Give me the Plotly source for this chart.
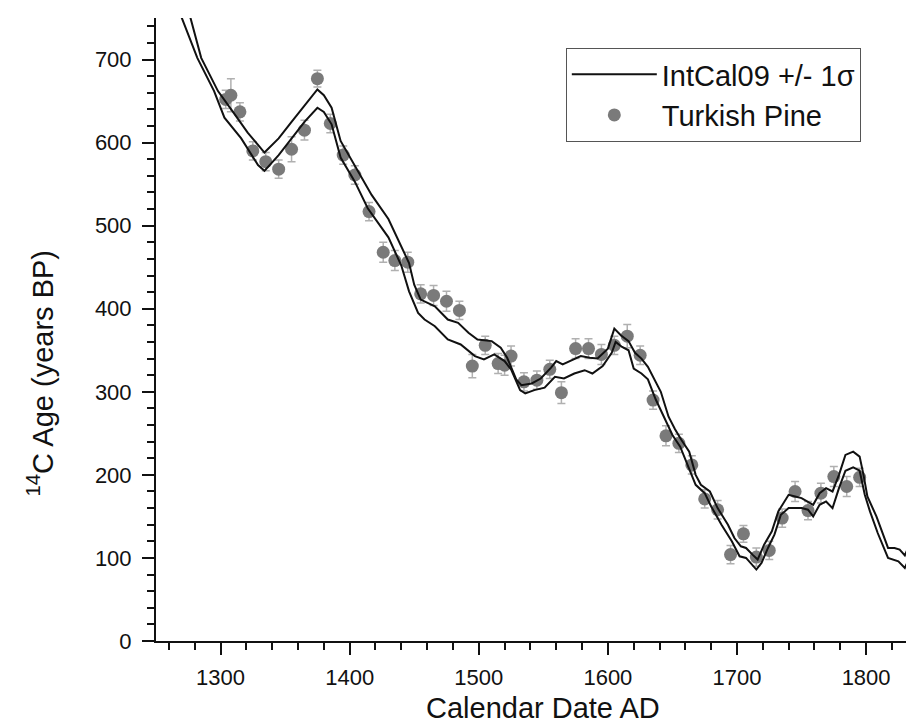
import plotly.graph_objects as go

# IntCal09 +1 sigma (upper) curve
upper_year = [1272, 1275, 1285, 1298, 1311, 1321, 1334, 1345, 1355, 1365, 1375, 1380, 1386, 1393, 1404,
              1417, 1430, 1440, 1446, 1450, 1455, 1466, 1476, 1484, 1492, 1499, 1510, 1517, 1522, 1529,
              1533, 1541, 1548, 1556, 1560, 1565, 1574, 1579, 1586, 1592, 1600, 1605, 1610, 1616, 1621,
              1626, 1631, 1636, 1641, 1647, 1652, 1657, 1663, 1668, 1672, 1679, 1685, 1693, 1698, 1703,
              1707, 1712, 1716, 1721, 1727, 1732, 1740, 1745, 1750, 1759, 1764, 1769, 1774, 1779, 1784,
              1790, 1795, 1798, 1801, 1808, 1817, 1822, 1826, 1830, 1835, 1840, 1845]
upper_age = [770, 760, 702, 662, 634, 612, 588, 605, 625, 645, 664, 657, 642, 602, 573,
             537, 508, 475, 455, 429, 411, 403, 387, 383, 371, 363, 361, 353, 341, 315,
             308, 310, 316, 329, 337, 333, 339, 343, 341, 340, 352, 376, 368, 361, 347,
             340, 330, 315, 300, 270, 255, 242, 228, 200, 188, 180, 160, 140, 124, 114,
             112, 104, 98, 116, 132, 156, 176, 174, 172, 164, 178, 184, 180, 200, 224,
             228, 222, 200, 174, 150, 112, 112, 110, 103, 121, 130, 124]

# IntCal09 -1 sigma (lower) curve
lower_year = [1265, 1267, 1282, 1295, 1303, 1316, 1329, 1334, 1345, 1355, 1365, 1375, 1380, 1386, 1393,
              1404, 1414, 1430, 1440, 1446, 1453, 1458, 1466, 1476, 1486, 1497, 1504, 1512, 1520, 1525,
              1532, 1536, 1543, 1551, 1559, 1566, 1574, 1582, 1588, 1596, 1600, 1603, 1606, 1611, 1616,
              1620, 1626, 1631, 1637, 1644, 1650, 1656, 1662, 1668, 1675, 1680, 1688, 1696, 1702, 1707,
              1715, 1719, 1724, 1729, 1734, 1740, 1750, 1755, 1759, 1764, 1769, 1774, 1779, 1784, 1790,
              1795, 1799, 1803, 1809, 1817, 1825, 1830, 1836, 1841, 1845]
lower_age = [775, 762, 702, 662, 630, 605, 573, 566, 585, 605, 625, 642, 637, 622, 582,
             553, 521, 486, 452, 421, 395, 387, 379, 363, 357, 343, 339, 345, 337, 327,
             302, 298, 302, 305, 318, 316, 322, 326, 322, 331, 341, 347, 360, 354, 350,
             328, 322, 315, 291, 268, 248, 234, 212, 188, 178, 162, 140, 120, 102, 100,
             86, 94, 112, 128, 152, 160, 160, 158, 150, 164, 168, 160, 184, 205, 209,
             205, 176, 156, 130, 100, 96, 88, 108, 115, 112]

# Turkish Pine measurements
pine_year = [1304, 1308, 1315, 1325, 1335, 1345, 1355, 1365, 1375, 1385, 1395, 1404, 1415, 1426,
             1435, 1445, 1455, 1465, 1475, 1485, 1495, 1505, 1515, 1520, 1525, 1535, 1545, 1555,
             1564, 1575, 1585, 1595, 1605, 1615, 1625, 1635, 1645, 1655, 1665, 1675, 1685, 1695,
             1705, 1715, 1725, 1735, 1745, 1755, 1765, 1775, 1785, 1795]
pine_age = [652, 657, 637, 590, 577, 568, 592, 615, 677, 623, 585, 561, 517, 468,
            458, 456, 418, 416, 409, 398, 331, 356, 334, 332, 343, 312, 314, 327,
            299, 352, 352, 345, 356, 367, 344, 290, 247, 238, 212, 171, 158, 104,
            129, 101, 109, 148, 180, 157, 178, 198, 186, 197]
pine_err = [11, 20, 11, 11, 11, 11, 15, 12, 10, 11, 11, 11, 11, 12,
            12, 12, 11, 12, 12, 11, 14, 11, 12, 12, 12, 11, 11, 11,
            13, 12, 12, 12, 11, 14, 11, 11, 12, 11, 11, 11, 11, 11,
            10, 11, 11, 11, 12, 11, 12, 12, 12, 11]

x_ticks = [1300, 1400, 1500, 1600, 1700, 1800]
y_ticks = [0, 100, 200, 300, 400, 500, 600, 700]

FONT = "Liberation Sans, Arial, sans-serif"

fig = go.Figure()

fig.add_trace(go.Scatter(
    x=pine_year, y=pine_age, mode="markers", name="Turkish Pine",
    marker=dict(color="#7a7a7a", size=13, line=dict(width=0)),
    error_y=dict(type="data", array=pine_err, visible=True, color="#b0b0b0", thickness=1.5, width=4),
    legendrank=2,
))
fig.add_trace(go.Scatter(
    x=upper_year, y=upper_age, mode="lines", name="IntCal09 +/- 1σ",
    line=dict(color="#111111", width=2), legendgroup="ic", legendrank=1,
))
fig.add_trace(go.Scatter(
    x=lower_year, y=lower_age, mode="lines", name="IntCal09 +/- 1σ",
    line=dict(color="#111111", width=2), legendgroup="ic", showlegend=False,
))

axis_common = dict(
    showgrid=False, zeroline=False, showline=True, linecolor="#111111", linewidth=2,
    ticks="outside", ticklen=12, tickwidth=2, tickcolor="#111111",
    tickfont=dict(family=FONT, size=22, color="#111111"),
)

fig.update_xaxes(
    range=[1250, 1843.3], tickvals=x_ticks, ticklabelstandoff=4,
    minor=dict(dtick=20, tick0=0, ticks="outside", ticklen=7, tickwidth=2, tickcolor="#111111"),
    **axis_common,
)
fig.update_yaxes(
    range=[0, 750], tickvals=y_ticks, ticklabelstandoff=6,
    minor=dict(dtick=20, tick0=0, ticks="outside", ticklen=7, tickwidth=2, tickcolor="#111111"),
    **axis_common,
)

fig.add_annotation(
    text="Calendar Date AD", xref="paper", yref="paper", x=0.505, y=-0.1075,
    xanchor="center", yanchor="middle", showarrow=False,
    font=dict(family=FONT, size=29, color="#111111"),
)
fig.add_annotation(
    text="<sup>14</sup>C Age (years BP)", xref="paper", yref="paper", x=-0.1508, y=0.43,
    xanchor="center", yanchor="middle", textangle=-90, showarrow=False,
    font=dict(family=FONT, size=29, color="#111111"),
)

fig.update_layout(
    width=914, height=726,
    margin=dict(l=148, r=0, t=10, b=93),
    paper_bgcolor="white", plot_bgcolor="white",
    showlegend=True,
    legend=dict(
        x=0.535, y=0.952, xanchor="left", yanchor="top",
        bgcolor="white", bordercolor="#555555", borderwidth=1,
        font=dict(family=FONT, size=29, color="#111111"),
        itemwidth=85, tracegroupgap=0,
    ),
)

fig.write_html("out.html")
